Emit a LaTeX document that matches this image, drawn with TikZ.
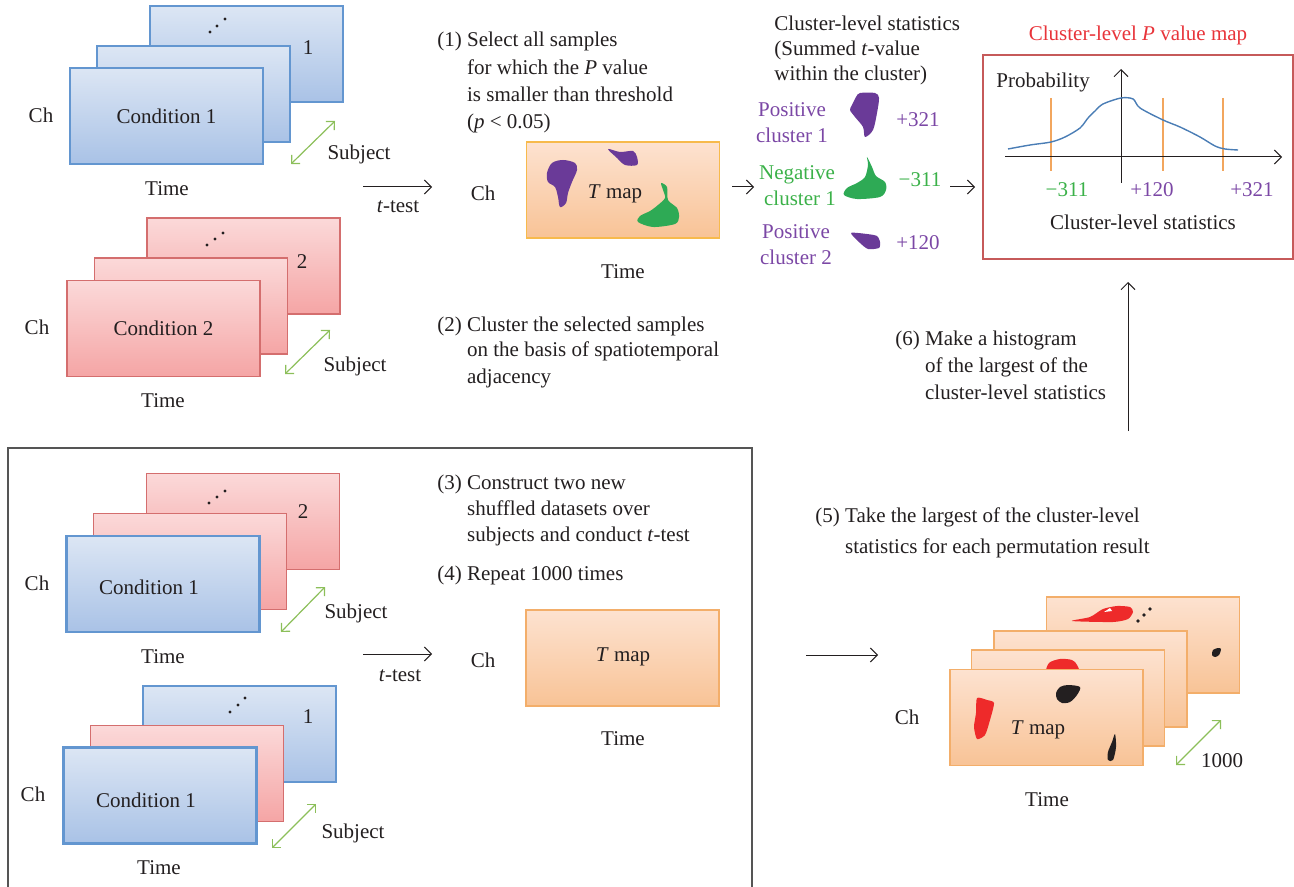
\documentclass[tikz,border=0pt]{standalone}
\usepackage{fontspec}
\setmainfont{Liberation Serif}
\usetikzlibrary{arrows.meta}
\definecolor{txt}{HTML}{231F20}
\definecolor{bluetop}{HTML}{DCE6F4}
\definecolor{bluebot}{HTML}{A9C2E6}
\definecolor{bluebd}{HTML}{6396D0}
\definecolor{redtop}{HTML}{FBD9D9}
\definecolor{redbot}{HTML}{F5A5A5}
\definecolor{redbd}{HTML}{D46E6E}
\definecolor{ortop}{HTML}{FDE2D0}
\definecolor{orbot}{HTML}{F8C396}
\definecolor{orbd}{HTML}{F3AE6A}
\definecolor{orbdtop}{HTML}{F7BA4C}
\definecolor{purp}{HTML}{6A3A98}
\definecolor{purptxt}{HTML}{7B47A5}
\definecolor{grn}{HTML}{2EAA55}
\definecolor{grntxt}{HTML}{3BB149}
\definecolor{grarr}{HTML}{8CBF5A}
\definecolor{titlered}{HTML}{E8343A}
\definecolor{boxred}{HTML}{C65A5A}
\definecolor{orline}{HTML}{F2A65E}
\definecolor{curve}{HTML}{4A7DB5}
\definecolor{boxgray}{HTML}{555555}
\definecolor{blobred}{HTML}{EE2A2A}
\newcommand\steptab[1]{\begin{tabular}[t]{@{}l@{\ }l@{}}#1\end{tabular}}
\begin{document}
\begin{tikzpicture}[x=0.5pt,y=-0.5pt,
  every node/.style={font=\fontsize{10.5}{13}\selectfont, inner sep=0pt, text=txt},
  card/.style={minimum width=96.5pt, minimum height=48pt, inner sep=0pt},
  bluecard/.style={card, draw=bluebd, line width=1.1pt, top color=bluetop, bottom color=bluebot},
  redcard/.style={card, draw=redbd, line width=0.7pt, top color=redtop, bottom color=redbot},
  tcard/.style={card, draw=orbd, line width=0.7pt, top color=ortop, bottom color=orbot},
  arr/.style={draw=txt, line width=0.5pt, -{Straight Barb[length=3.5pt,width=7pt]}},
  garr/.style={draw=grarr, line width=0.6pt, {Straight Barb[length=3pt,width=6pt]}-{Straight Barb[length=3pt,width=6pt]}},
  steptext/.style={anchor=base west},
]
\useasboundingbox (0,0) rectangle (1294,887);

% ---------------- top-left: condition 1 stack
\node[bluecard] (c1back) at (246.5,54) {};
\fill[txt] (210,32) circle[radius=0.8pt] (217,26) circle[radius=0.8pt] (225,19) circle[radius=0.8pt];
\node (c1num) at (308,48) {1};
\node[bluecard] (c1mid) at (193.5,94) {};
\node[bluecard] (c1front) at (166.5,116) {Condition 1};
\node (c1ch) at (41,115) {Ch};
\node (c1time) at (167,189) {Time};
\coordinate (c1s1) at (291,164); \coordinate (c1s2) at (335,121);
\draw[garr] (c1s1) -- (c1s2);
\node (c1subj) at (359,154) {Subject};

% ---------------- condition 2 stack
\node[redcard] (c2back) at (243.5,266) {};
\fill[txt] (207,245) circle[radius=0.8pt] (215,239) circle[radius=0.8pt] (223,233) circle[radius=0.8pt];
\node (c2num) at (302,262) {2};
\node[redcard] (c2mid) at (191,306) {};
\node[redcard] (c2front) at (163.5,328.5) {Condition 2};
\node (c2ch) at (37,327) {Ch};
\node (c2time) at (163,401) {Time};
\coordinate (c2s1) at (285,374); \coordinate (c2s2) at (330,330);
\draw[garr] (c2s1) -- (c2s2);
\node (c2subj) at (355,366) {Subject};

% t-test arrow top
\coordinate (tt1s) at (363,187); \coordinate (tt1e) at (432,187);
\draw[arr] (tt1s) -- (tt1e);
\node (tt1lab) at (398,207) {\textit{t}-test};

% step 1
\node[steptext] (step1) at (437,47) {\renewcommand\arraystretch{1.04}\steptab{(1) & Select all samples\\ & for which the \textit{P} value\\ & is smaller than threshold\\ & (\textit{p} < 0.05)}};

% T map top
\node[card, draw=orbdtop, line width=0.8pt, top color=ortop, bottom color=orbot] (tmap1) at (623,190) {};
\fill[purp] plot[smooth cycle, tension=0.55] coordinates {(547,173) (552,163) (563,160) (575,163) (577,170) (572,182) (568,193) (566,203) (560,207) (558,197) (555,187) (548,182)};
\fill[purp] plot[smooth cycle, tension=0.5] coordinates {(608,149) (620,152) (633,151) (637,157) (637,165) (625,165) (617,158)};
\fill[grn] plot[smooth cycle, tension=0.5] coordinates {(661,183) (667,187) (668,200) (677,208) (679,217) (675,224) (653,227) (638,222) (640,216) (650,211) (658,205) (665,198) (663,190)};
\node (tmap1lab) at (615,194) {\textit{T} map};
\node (tmap1ch) at (483,193) {Ch};
\node (tmap1time) at (623,272) {Time};

% step 2
\node[steptext] (step2) at (437,331) {\steptab{(2) & Cluster the selected samples\\ & on the basis of spatiotemporal\\ & adjacency}};

% arrow to clusters
\coordinate (a2s) at (732,187); \coordinate (a2e) at (754,187);
\draw[arr] (a2s) -- (a2e);

% cluster-level statistics header
\node[anchor=base west] (clhead) at (774,31) {\renewcommand\arraystretch{0.96}\begin{tabular}[t]{@{}l@{}}Cluster-level statistics\\(Summed \textit{t}-value\\within the cluster)\end{tabular}};

% clusters
\node[anchor=base, text=purptxt] (pc1) at (792,117) {\begin{tabular}[t]{@{}c@{}}Positive\\cluster 1\end{tabular}};
\fill[purp] plot[smooth cycle, tension=0.5] coordinates {(852,105) (856,97) (860,93) (875,93) (879,98) (877,113) (873,130) (865,137) (863,127) (855,117) (850,110)};
\node[text=purptxt] (pc1v) at (918,120) {+321};

\node[anchor=base, text=grntxt] (nc1) at (797,180) {\begin{tabular}[t]{@{}c@{}}Negative\\\hspace*{3pt}cluster 1\end{tabular}};
\fill[grn] plot[smooth cycle, tension=0.5] coordinates {(867,157) (872,167) (876,176) (885,182) (886,190) (880,197) (857,199) (844,195) (847,188) (857,183) (865,177) (868,165)};
\node[text=grntxt] (nc1v) at (920,180) {−311};

\node[anchor=base, text=purptxt] (pc2) at (796,239) {\begin{tabular}[t]{@{}c@{}}Positive\\cluster 2\end{tabular}};
\fill[purp] plot[smooth cycle, tension=0.4] coordinates {(851,233) (867,234) (877,236) (880,242) (879,248) (868,249) (860,243)};
\node[text=purptxt] (pc2v) at (918,243) {+120};

% arrow to histogram box
\coordinate (a3s) at (950,187); \coordinate (a3e) at (975,187);
\draw[arr] (a3s) -- (a3e);

% histogram box
\node[text=titlered] (htitle) at (1138,35) {Cluster-level \textit{P} value map};
\node[draw=boxred, line width=0.7pt, minimum width=155pt, minimum height=102pt] (hbox) at (1138,157) {};
\node[anchor=west] (hprob) at (996,82) {Probability};
\foreach \xx in {1051,1163,1223} \draw[orline, line width=1pt] (\xx,98) -- (\xx,171);
\coordinate (xs) at (1005,157); \coordinate (xe) at (1282,157);
\coordinate (ys) at (1121,183); \coordinate (ye) at (1121,69);
\draw[arr] (xs) -- (xe);
\draw[arr] (ys) -- (ye);
\draw[curve, line width=0.7pt] plot[smooth, tension=0.5] coordinates {(1008,149) (1030,145) (1051,142) (1065,137) (1080,128) (1088,118) (1095,111) (1103,104) (1121,98) (1133,99) (1140,108) (1163,120) (1180,127) (1200,137) (1215,146) (1225,149) (1238,150)};
\node[text=grntxt] (hl1) at (1067,190) {−311};
\node[text=purptxt] (hl2) at (1152,190) {+120};
\node[text=purptxt] (hl3) at (1252,190) {+321};
\node (hxlab) at (1143,222) {Cluster-level statistics};

% step 6 and up arrow
\coordinate (a6s) at (1128,431); \coordinate (a6e) at (1128,282);
\draw[arr] (a6s) -- (a6e);
\node[steptext] (step6) at (895,345) {\renewcommand\arraystretch{1.05}\steptab{(6) & Make a histogram\\ & of the largest of the\\ & cluster-level statistics}};

% ---------------- permutation box
\draw[boxgray, line width=0.8pt] (8,895) -- (8,448) -- (752,448) -- (752,895);

% stack A
\node[redcard] (paback) at (243,521.5) {};
\fill[txt] (209,503) circle[radius=0.8pt] (217,497) circle[radius=0.8pt] (225,491) circle[radius=0.8pt];
\node (panum) at (303,512) {2};
\node[redcard] (pamid) at (190,561.5) {};
\node[bluecard] (pafront) at (163,584) {};
\node (palab) at (149,587) {Condition 1};
\node (pach) at (37,583) {Ch};
\node (patime) at (163,657) {Time};
\coordinate (pas1) at (281,632); \coordinate (pas2) at (325,587);
\draw[garr] (pas1) -- (pas2);
\node (pasubj) at (356,613) {Subject};

% stack B
\node[bluecard] (pbback) at (239.5,734) {};
\fill[txt] (230,712) circle[radius=0.8pt] (238,705) circle[radius=0.8pt] (245,698) circle[radius=0.8pt];
\node (pbnum) at (308,717) {1};
\node[redcard] (pbmid) at (187,773.5) {};
\node[bluecard] (pbfront) at (160,795.5) {};
\node (pblab) at (146,800) {Condition 1};
\node (pbch) at (33,794) {Ch};
\node (pbtime) at (159,868) {Time};
\coordinate (pbs1) at (272,848); \coordinate (pbs2) at (316,804);
\draw[garr] (pbs1) -- (pbs2);
\node (pbsubj) at (353,833) {Subject};

% t-test arrow bottom
\coordinate (tt2s) at (363,654); \coordinate (tt2e) at (432,654);
\draw[arr] (tt2s) -- (tt2e);
\node (tt2lab) at (400,676) {\textit{t}-test};

% steps 3, 4
\node[steptext] (step3) at (437,489) {\steptab{(3) & Construct two new\\ & shuffled datasets over\\ & subjects and conduct \textit{t}-test}};
\node[steptext] (step4) at (437,580) {\steptab{(4) & Repeat 1000 times}};

% T map bottom
\node[tcard] (tmap2) at (622.5,658) {};
\node (tmap2lab) at (623,657) {\textit{T} map};
\node (tmap2ch) at (483,660) {Ch};
\node (tmap2time) at (623,739) {Time};

% step 5
\coordinate (a5s) at (806,655); \coordinate (a5e) at (878,655);
\draw[arr] (a5s) -- (a5e);
\node[steptext] (step5) at (815,522) {\renewcommand\arraystretch{1.22}\steptab{(5) & Take the largest of the cluster-level\\ & statistics for each permutation result}};

% bottom-right stack of T maps
\node[tcard] (rt4) at (1143,645) {};
\fill[blobred] plot[smooth cycle, tension=0.4] coordinates {(1072,621) (1090,617) (1103,609) (1117,606) (1130,607) (1133,612) (1128,619) (1113,622)};
\fill[white] (1104,612) -- (1110,608) -- (1112,611) -- cycle;
\fill[txt] (1138,621) circle[radius=0.9pt] (1144,615) circle[radius=0.9pt] (1150,609) circle[radius=0.9pt];
\node[tcard] (rt3) at (1090.5,679) {};
\fill[txt] plot[smooth cycle, tension=0.5] coordinates {(1212,655) (1213,650) (1218,648) (1221,649) (1219,655) (1215,657)};
\node[tcard] (rt2) at (1068,698) {};
\fill[blobred] plot[smooth cycle, tension=0.5] coordinates {(1048,673) (1049,663) (1060,659) (1072,660) (1077,665) (1078,674)};
\node[tcard] (rt1) at (1046.5,717.5) {};
\fill[txt] plot[smooth cycle, tension=0.5] coordinates {(1056,693) (1060,687) (1068,685) (1080,687) (1077,695) (1070,702) (1062,703) (1057,699)};
\fill[blobred] plot[smooth cycle, tension=0.4] coordinates {(977,698) (987,700) (994,703) (990,720) (985,735) (977,739) (974,727) (976,713)};
\fill[txt] plot[smooth cycle, tension=0.5] coordinates {(1115,734) (1116,747) (1113,760) (1108,760) (1108,752) (1112,742)};
\node (rtlab) at (1038,730) {\textit{T} map};
\node (rtch) at (907,717) {Ch};
\node (rttime) at (1047,800) {Time};
\coordinate (rts1) at (1176,765); \coordinate (rts2) at (1221,720);
\draw[garr] (rts1) -- (rts2);
\node (rtn) at (1222,761) {1000};
\end{tikzpicture}
\end{document}
